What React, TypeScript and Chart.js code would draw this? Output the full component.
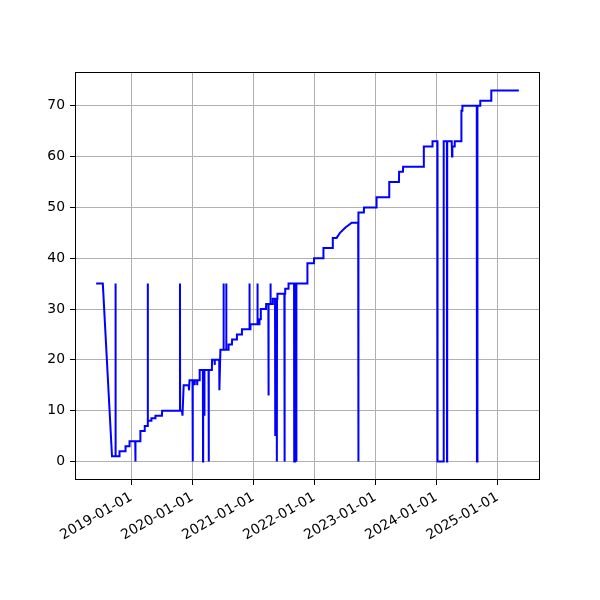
import React, { useEffect, useRef } from "react";
import { Chart, registerables } from "chart.js";

Chart.register(...registerables);

const dates: string[] = [
  "2018-06-04", "2018-07-14", "2018-09-07", "2018-09-27", "2018-09-28", "2018-09-29",
  "2018-10-21", "2018-10-22", "2018-11-26", "2018-11-27", "2018-12-20", "2018-12-21",
  "2019-01-24", "2019-01-25", "2019-01-26", "2019-02-23", "2019-02-24", "2019-03-21",
  "2019-03-22", "2019-04-08", "2019-04-09", "2019-04-10", "2019-04-30", "2019-05-01",
  "2019-05-24", "2019-05-25", "2019-07-03", "2019-07-04", "2019-10-18", "2019-10-19",
  "2019-10-20", "2019-10-31", "2019-11-03", "2019-11-10", "2019-12-10", "2019-12-12",
  "2019-12-15", "2020-01-02", "2020-01-03", "2020-01-04", "2020-01-14", "2020-01-15",
  "2020-01-16", "2020-01-29", "2020-01-30", "2020-01-31", "2020-02-13", "2020-02-14",
  "2020-03-04", "2020-03-05", "2020-03-06", "2020-03-12", "2020-03-13", "2020-03-14",
  "2020-04-07", "2020-04-08", "2020-04-09", "2020-04-27", "2020-04-28", "2020-05-13",
  "2020-05-14", "2020-05-15", "2020-06-10", "2020-06-11", "2020-06-17", "2020-07-05",
  "2020-07-06", "2020-07-07", "2020-07-21", "2020-07-22", "2020-07-23", "2020-08-04",
  "2020-08-05", "2020-08-25", "2020-08-26", "2020-09-23", "2020-09-24", "2020-10-23",
  "2020-10-24", "2020-12-07", "2020-12-08", "2020-12-09", "2020-12-13", "2020-12-14",
  "2021-01-24", "2021-01-25", "2021-01-26", "2021-02-05", "2021-02-06", "2021-02-13",
  "2021-02-14", "2021-03-17", "2021-03-18", "2021-03-31", "2021-04-01", "2021-04-02",
  "2021-04-12", "2021-04-13", "2021-04-14", "2021-04-26", "2021-04-27", "2021-05-10",
  "2021-05-11", "2021-05-12", "2021-05-20", "2021-05-21", "2021-05-22", "2021-05-24",
  "2021-05-25", "2021-07-05", "2021-07-06", "2021-07-07", "2021-07-09", "2021-07-10",
  "2021-07-29", "2021-07-30", "2021-09-01", "2021-09-02", "2021-09-07", "2021-09-08",
  "2021-09-13", "2021-09-14", "2021-09-16", "2021-11-19", "2021-11-20", "2021-12-29",
  "2021-12-30", "2022-02-23", "2022-02-24", "2022-04-20", "2022-04-21", "2022-05-14",
  "2022-06-03", "2022-07-04", "2022-08-12", "2022-09-20", "2022-09-21", "2022-09-22",
  "2022-10-24", "2022-10-25", "2023-01-07", "2023-01-08", "2023-03-24", "2023-03-25",
  "2023-05-22", "2023-05-23", "2023-06-15", "2023-06-16", "2023-10-17", "2023-10-18",
  "2023-12-08", "2023-12-09", "2024-01-07", "2024-01-08", "2024-02-13", "2024-02-14",
  "2024-03-04", "2024-03-05", "2024-03-06", "2024-04-02", "2024-04-04", "2024-04-06",
  "2024-04-18", "2024-04-20", "2024-05-28", "2024-05-30", "2024-06-03", "2024-06-05",
  "2024-08-30", "2024-08-31", "2024-09-02", "2024-09-03", "2024-09-19", "2024-09-20",
  "2024-11-24", "2024-11-25", "2025-05-09",
];

const values: number[] = [
  35, 35, 1, 1, 35, 1,
  1, 2, 2, 3, 3, 4,
  4, 0, 4, 4, 6, 6,
  7, 7, 35, 8, 8, 8.5,
  8.5, 9, 9, 10, 10, 35,
  10, 10, 9, 15, 15, 14,
  16, 16, 0, 16, 16, 15,
  16, 16, 15, 16, 16, 18,
  18, 0, 18, 18, 9, 18,
  18, 0, 18, 18, 20, 20,
  19, 20, 20, 14, 22, 22,
  35, 22, 22, 35, 22, 22,
  23, 23, 24, 24, 25, 25,
  26, 26, 35, 26, 26, 27,
  27, 35, 27, 27, 28, 28,
  30, 30, 31, 31, 13, 31,
  31, 35, 31, 31, 32, 32,
  5, 32, 32, 0, 32, 32,
  33, 33, 0, 33, 33, 34,
  34, 35, 35, 0, 0, 35,
  35, 0, 35, 35, 39, 39,
  40, 40, 42, 42, 44, 44,
  45, 46, 47, 47, 0, 49,
  49, 50, 50, 52, 52, 55,
  55, 57, 57, 58, 58, 62,
  62, 63, 63, 0, 0, 63,
  63, 0, 63, 63, 60, 62,
  62, 63, 63, 69, 69, 70,
  70, 0, 0, 70, 70, 71,
  71, 73, 73,
];

const xTickYears: number[] = [2019, 2020, 2021, 2022, 2023, 2024, 2025];
const yTickValues: number[] = [0, 10, 20, 30, 40, 50, 60, 70];

const FONT = { family: "'DejaVu Sans', sans-serif", size: 13.9 };

function fmtDate(ms: number): string {
  const d = new Date(ms);
  const y = d.getUTCFullYear();
  const m = String(d.getUTCMonth() + 1).padStart(2, "0");
  const day = String(d.getUTCDate()).padStart(2, "0");
  return `${y}-${m}-${day}`;
}

export default function App() {
  const ref = useRef<HTMLCanvasElement | null>(null);

  useEffect(() => {
    if (!ref.current) return;
    const pts = dates.map((d, i) => ({ x: Date.parse(d), y: values[i] }));
    const xs = pts.map((p) => p.x);
    const ys = pts.map((p) => p.y);
    const xMin = Math.min(...xs);
    const xMax = Math.max(...xs);
    const yMin = Math.min(...ys);
    const yMax = Math.max(...ys);
    const xPad = (xMax - xMin) * 0.05;
    const yPad = (yMax - yMin) * 0.05;

    const spines = {
      id: "spines",
      afterDatasetsDraw(chart: any) {
        const { ctx, chartArea } = chart;
        ctx.save();
        ctx.strokeStyle = "#000";
        ctx.lineWidth = 1;
        const l = Math.round(chartArea.left) + 0.5;
        const t = Math.round(chartArea.top) + 0.5;
        const r = Math.round(chartArea.right) - 0.5;
        const b = Math.round(chartArea.bottom) - 0.5;
        ctx.strokeRect(l, t, r - l, b - t);
        ctx.restore();
      },
    };

    const chart = new Chart(ref.current, {
      type: "line",
      data: {
        datasets: [
          {
            data: pts,
            borderColor: "#0000ff",
            backgroundColor: "#0000ff",
            borderWidth: 2,
            pointRadius: 0,
            tension: 0,
            fill: false,
          },
        ],
      },
      options: {
        animation: false,
        responsive: false,
        devicePixelRatio: 1,
        parsing: false,
        layout: { padding: { left: 0, top: 72, right: 60, bottom: 0 } },
        plugins: { legend: { display: false }, tooltip: { enabled: false } },
        scales: {
          x: {
            type: "linear",
            min: xMin - xPad,
            max: xMax + xPad,
            afterBuildTicks: (scale: any) => {
              scale.ticks = xTickYears.map((y) => ({ value: Date.UTC(y, 0, 1) }));
            },
            afterFit: (scale: any) => {
              scale.height = 120;
              scale.paddingLeft = 0;
              scale.paddingRight = 0;
            },
            ticks: {
              autoSkip: false,
              minRotation: 30,
              maxRotation: 30,
              color: "#000",
              font: FONT,
              padding: 4,
              callback: (v: any) => fmtDate(Number(v)),
            },
            grid: {
              color: "#b0b0b0",
              lineWidth: 1,
              tickColor: "#000",
              tickLength: 5,
              drawTicks: true,
            },
            border: { display: false },
          },
          y: {
            type: "linear",
            min: yMin - yPad,
            max: yMax + yPad,
            afterBuildTicks: (scale: any) => {
              scale.ticks = yTickValues.map((v) => ({ value: v }));
            },
            afterFit: (scale: any) => {
              scale.width = 75;
              scale.paddingTop = 0;
              scale.paddingBottom = 0;
            },
            ticks: {
              color: "#000",
              font: FONT,
              padding: 5,
              callback: (v: any) => String(v),
            },
            grid: {
              color: "#b0b0b0",
              lineWidth: 1,
              tickColor: "#000",
              tickLength: 5,
              drawTicks: true,
            },
            border: { display: false },
          },
        },
      },
      plugins: [spines],
    } as any);

    return () => chart.destroy();
  }, []);

  return (
    <div style={{ position: "absolute", left: 0, top: 0, width: 600, height: 600, background: "#fff" }}>
      <canvas ref={ref} width={600} height={600} style={{ width: 600, height: 600 }} />
    </div>
  );
}
